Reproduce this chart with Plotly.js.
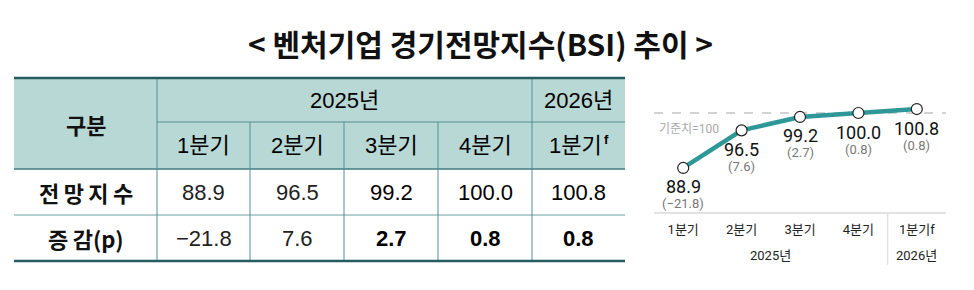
<!DOCTYPE html>
<html><head><meta charset="utf-8">
<script src="https://cdn.plot.ly/plotly-3.0.1.min.js"></script>
<style>html,body{margin:0;padding:0;background:#fff}#chart{width:974px;height:290px}</style>
</head><body><div id="chart"></div>
<script>
// ---- data ----
const titleText = '< 벤처기업 경기전망지수(BSI) 추이 >';
const quarters = ['1분기', '2분기', '3분기', '4분기', '1분기'];
const forecastMark = 'f';
const years = ['2025년', '2026년'];
const yearSpans = [4, 1];
const rowLabels = ['전망지수', '증감(p)'];
const headLabel = '구분';
const bsi = [88.9, 96.5, 99.2, 100.0, 100.8];
const change = [-21.8, 7.6, 2.7, 0.8, 0.8];
const baseline = 100;
const baselineLabel = '기준치=100';

// ---- layout helpers ----
const W = 974, H = 290;
const px = x => x / W, py = y => 1 - y / H;
const colX = [14, 157, 250, 344, 438, 532, 625];
const rowY = [78, 122, 169, 215, 261];
const fmt = v => (v < 0 ? '\u2212' + Math.abs(v).toFixed(1) : v.toFixed(1));
const TF = 'Liberation Sans, Noto Sans CJK KR, sans-serif';
const KF = 'Noto Sans CJK KR, sans-serif';
const CF = 'Roboto, Noto Sans CJK KR, sans-serif';
const spaceHangul = s => s.replace(/([\uAC00-\uD7A3])(?=[\uAC00-\uD7A3])/g, '$1\u2009');

const shapes = [], annotations = [];
function hline(y, x0, x1, color, w) {
  shapes.push({type: 'line', xref: 'paper', yref: 'paper', x0: px(x0), x1: px(x1), y0: py(y), y1: py(y), line: {color: color, width: w}});
}
function vline(x, y0, y1, color, w) {
  shapes.push({type: 'line', xref: 'paper', yref: 'paper', x0: px(x), x1: px(x), y0: py(y0), y1: py(y1), line: {color: color, width: w}});
}
function txt(x, y, text, size, opts) {
  opts = opts || {};
  annotations.push({xref: 'paper', yref: 'paper', x: px(x), y: py(y), text: text, showarrow: false,
    xanchor: opts.anchor || 'center', yanchor: 'middle',
    font: {family: opts.family || TF, size: size, color: opts.color || '#111', weight: opts.weight || 'normal'}});
}

// table header fill
shapes.push({type: 'rect', xref: 'paper', yref: 'paper', x0: px(colX[0]), x1: px(colX[6]), y0: py(rowY[0]), y1: py(rowY[2]),
  fillcolor: '#b8d8d5', line: {width: 0}, layer: 'below'});
// table lines
const inner = '#558f93';
hline(rowY[1], colX[1], colX[6], inner, 1);
hline(rowY[2], colX[0], colX[6], '#3f7c81', 1.5);
hline(rowY[3], colX[0], colX[6], '#6a9ea2', 1);
vline(colX[1], rowY[0], rowY[4], inner, 1);
vline(colX[5], rowY[0], rowY[4], inner, 1);
for (let c = 2; c <= 4; c++) vline(colX[c], rowY[1], rowY[4], inner, 1);
hline(rowY[0], colX[0], colX[6], '#245c62', 2.5);
hline(rowY[4], colX[0], colX[6], '#245c62', 2.5);

const cx = c => (colX[c] + colX[c + 1]) / 2;
const ry = r => (rowY[r] + rowY[r + 1]) / 2;
// header texts
txt(cx(0), (rowY[0] + rowY[2]) / 2, headLabel, 22, {family: KF, weight: 'bold'});
let startCol = 1;
years.forEach((yr, i) => {
  const endCol = startCol + yearSpans[i];
  txt((colX[startCol] + colX[endCol]) / 2, ry(0), yr, 22, {color: '#000'});
  startCol = endCol;
});
quarters.forEach((q, i) => {
  const last = i === quarters.length - 1;
  txt(cx(i + 1) - (last ? 3 : 0), ry(1), q, 22, {color: '#000'});
  if (last) txt(cx(i + 1) + 23, ry(1) - 6, forecastMark, 13, {color: '#000', anchor: 'left', weight: 'bold'});
});
// row labels
txt(cx(0), ry(2), spaceHangul(rowLabels[0]), 22, {family: KF, weight: 'bold'});
txt(cx(0), ry(3), spaceHangul(rowLabels[1]), 22, {family: KF, weight: 'bold'});
// values
bsi.forEach((v, i) => txt(cx(i + 1), ry(2), v.toFixed(1), 22, {color: i < 2 ? '#222' : '#000'}));
change.forEach((v, i) => txt(cx(i + 1), ry(3), fmt(v), 22, {color: i < 2 ? '#222' : '#000', weight: i < 2 ? 'normal' : 'bold'}));

// title
annotations.push({xref: 'paper', yref: 'paper', x: px(480), y: py(43), text: titleText, showarrow: false,
  xanchor: 'center', yanchor: 'middle', font: {family: KF, size: 30, color: '#111', weight: 'bold'}});

// ---- line chart ----
const xs = bsi.map((_, i) => i);
const tickText = quarters.map((q, i) => i === quarters.length - 1 ? q + forecastMark : q);

// baseline dashed
shapes.push({type: 'line', xref: 'x', yref: 'y', x0: -0.5, x1: 4.5, y0: baseline, y1: baseline,
  line: {color: '#c4c4c4', width: 1.5, dash: 'dash'}, layer: 'below'});
// separator between years
shapes.push({type: 'line', xref: 'x', yref: 'paper', x0: yearSpans[0] - 0.5, x1: yearSpans[0] - 0.5, y0: py(212), y1: py(265),
  line: {color: '#e2e2e2', width: 1.5}});

annotations.push({xref: 'paper', yref: 'paper', x: px(657), y: py(129), text: baselineLabel, showarrow: false,
  xanchor: 'left', yanchor: 'middle', font: {family: CF, size: 12, color: '#a9a9a9'}});

bsi.forEach((v, i) => {
  annotations.push({xref: 'x', yref: 'y', x: i, y: v, text: v.toFixed(1), showarrow: false, yshift: -19,
    xanchor: 'center', yanchor: 'middle', font: {family: CF, size: 18, color: '#111'}});
  annotations.push({xref: 'x', yref: 'y', x: i, y: v, text: '(' + fmt(change[i]) + ')', showarrow: false, yshift: -36,
    xanchor: 'center', yanchor: 'middle', font: {family: CF, size: 13, color: '#777'}});
});
let s = 0;
years.forEach((yr, i) => {
  const mid = s + (yearSpans[i] - 1) / 2;
  annotations.push({xref: 'x', yref: 'paper', x: mid, y: py(255), text: yr, showarrow: false,
    xanchor: 'center', yanchor: 'middle', font: {family: CF, size: 13, color: '#222'}});
  s += yearSpans[i];
});

const trace = {
  type: 'scatter', mode: 'lines+markers', x: xs, y: bsi, hoverinfo: 'skip',
  line: {color: '#2e9797', width: 4.5},
  marker: {size: 11, color: '#ffffff', line: {color: '#222', width: 1.2}},
  cliponaxis: false
};

const layout = {
  width: W, height: H, margin: {l: 0, r: 0, t: 0, b: 0},
  paper_bgcolor: '#fff', plot_bgcolor: 'rgba(0,0,0,0)', showlegend: false,
  xaxis: {domain: [px(654), px(946)], range: [-0.5, 4.5], showline: true, linecolor: '#e2e2e2', linewidth: 2,
    showgrid: false, zeroline: false, ticks: '', tickvals: xs, ticktext: tickText, ticklabelstandoff: 4,
    tickfont: {family: CF, size: 13, color: '#222'}, fixedrange: true},
  yaxis: {domain: [py(212), py(80)], range: [80, 106.67], visible: false, fixedrange: true},
  shapes: shapes, annotations: annotations
};
Plotly.newPlot('chart', [trace], layout, {displayModeBar: false, staticPlot: true});
</script></body></html>
